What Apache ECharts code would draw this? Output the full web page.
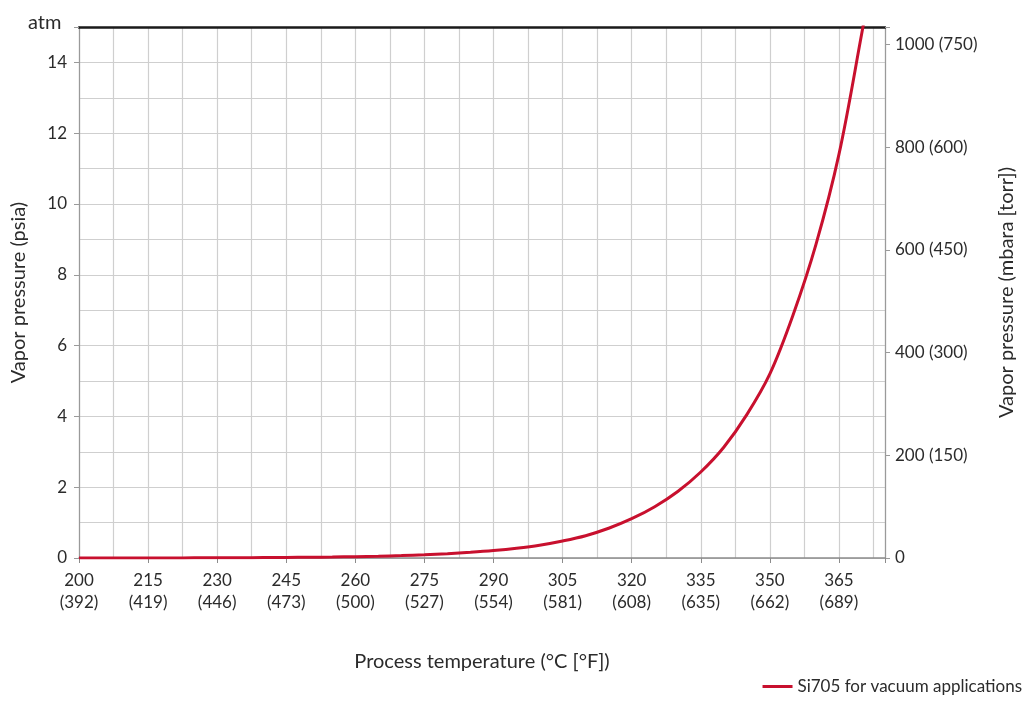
<!DOCTYPE html>
<html>
<head>
<meta charset="utf-8">
<script src="https://cdn.jsdelivr.net/npm/echarts@6/dist/echarts.min.js"></script>
<style>
html,body{margin:0;padding:0;background:#fff;}
#chart{width:1029px;height:702px;}
</style>
</head>
<body>
<div id="chart"></div>
<script>
// Process temperature (°C)
const tempC = [200,205,210,215,220,225,230,235,240,245,250,255,260,265,270,275,280,285,290,295,300,305,310,315,320,325,330,335,340,345,350,355,360,365,370,371];
// Vapor pressure (psia)
const psia = [0.0007,0.001,0.0015,0.002,0.003,0.004,0.006,0.008,0.011,0.015,0.021,0.028,0.038,0.051,0.068,0.09,0.12,0.16,0.21,0.275,0.36,0.48,0.63,0.84,1.11,1.45,1.88,2.43,3.13,4.05,5.2,6.85,8.85,11.4,14.85,15.6];
// X tick labels
const xTicksC = [200,215,230,245,260,275,290,305,320,335,350,365];
const xTicksF = [392,419,446,473,500,527,554,581,608,635,662,689];
// Right axis tick labels (mbara [torr])
const mbarTicks = [0,200,400,600,800,1000];
const torrTicks = [null,150,300,450,600,750];
const topLabel = 'atm';
const seriesName = 'Si705 for vacuum applications';

const PSI_TO_MBAR = 68.9476;
const font = 'Lato, "Open Sans", sans-serif';
const textColor = '#2b2b2b';
const tickSize = 17;

const chart = echarts.init(document.getElementById('chart'));
chart.setOption({
  animation: false,
  textStyle: {fontFamily: font},
  grid: {left: 79, right: 144, top: 27, bottom: 144, containLabel: false},
  graphic: [{
    type: 'text', left: 28, top: 13,
    style: {text: topLabel, fontSize: 20, fontFamily: font, fill: textColor}
  }],
  legend: {
    right: 2, bottom: 2,
    icon: 'rect', itemWidth: 30, itemHeight: 3, itemGap: 8,
    textStyle: {fontSize: 17, color: textColor, fontFamily: font},
    data: [seriesName]
  },
  xAxis: [{
    type: 'value', min: 200, max: 375, interval: 15,
    name: 'Process temperature (°C [°F])',
    nameLocation: 'middle', nameGap: 94,
    nameTextStyle: {fontSize: 20, color: textColor, fontFamily: font},
    axisLine: {show: true, onZero: false, lineStyle: {color: '#8c8c8c', width: 1.5}},
    axisTick: {show: true, length: 5, lineStyle: {color: '#8c8c8c'}},
    axisLabel: {
      margin: 12, fontSize: tickSize, color: textColor, lineHeight: 22,
      formatter: function (v) {
        const i = xTicksC.indexOf(v);
        return i >= 0 ? v + '\n(' + xTicksF[i] + ')' : '';
      }
    },
    splitLine: {show: false}
  }, {
    type: 'value', min: 200, max: 375, interval: 7.5, position: 'top',
    axisLine: {show: true, onZero: false, lineStyle: {color: '#1a1a1a', width: 2.5}},
    axisTick: {show: false},
    axisLabel: {show: false},
    splitLine: {show: true, lineStyle: {color: '#cfcfcf', width: 1.2}}
  }],
  yAxis: [{
    type: 'value', min: 0, max: 15, interval: 2, position: 'left',
    name: 'Vapor pressure (psia)',
    nameLocation: 'middle', nameGap: 50,
    nameTextStyle: {fontSize: 20, color: textColor, fontFamily: font},
    axisLine: {show: true, onZero: false, lineStyle: {color: '#9a9a9a', width: 1.2}},
    axisTick: {show: true, length: 5, lineStyle: {color: '#9a9a9a'}},
    axisLabel: {
      margin: 12, fontSize: tickSize, color: textColor,
      formatter: function (v) { return v === 15 ? '' : String(v); }
    },
    splitLine: {show: false}
  }, {
    type: 'value', min: 0, max: 15 * PSI_TO_MBAR, interval: 200, position: 'right',
    name: 'Vapor pressure (mbara [torr])',
    nameLocation: 'middle', nameGap: 112,
    nameTextStyle: {fontSize: 20, color: textColor, fontFamily: font},
    axisLine: {show: true, onZero: false, lineStyle: {color: '#9a9a9a', width: 1.2}},
    axisTick: {show: true, length: 5, lineStyle: {color: '#9a9a9a'}},
    axisLabel: {
      margin: 10, fontSize: tickSize, color: textColor,
      formatter: function (v) {
        const i = mbarTicks.indexOf(v);
        if (i < 0) return '';
        return torrTicks[i] === null ? String(v) : v + ' (' + torrTicks[i] + ')';
      }
    },
    splitLine: {show: false}
  }, {
    type: 'value', min: 0, max: 15, interval: 1, position: 'left',
    axisLine: {show: false}, axisTick: {show: false}, axisLabel: {show: false},
    splitLine: {show: true, lineStyle: {color: '#cfcfcf', width: 1.2}}
  }],
  series: [{
    name: seriesName,
    type: 'line',
    xAxisIndex: 0, yAxisIndex: 0,
    data: tempC.map((t, i) => [t, psia[i]]),
    smooth: 0.35,
    showSymbol: false, symbol: 'none',
    clip: true,
    lineStyle: {color: '#c8102e', width: 3},
    itemStyle: {color: '#c8102e'},
    z: 5
  }]
});
</script>
</body>
</html>
